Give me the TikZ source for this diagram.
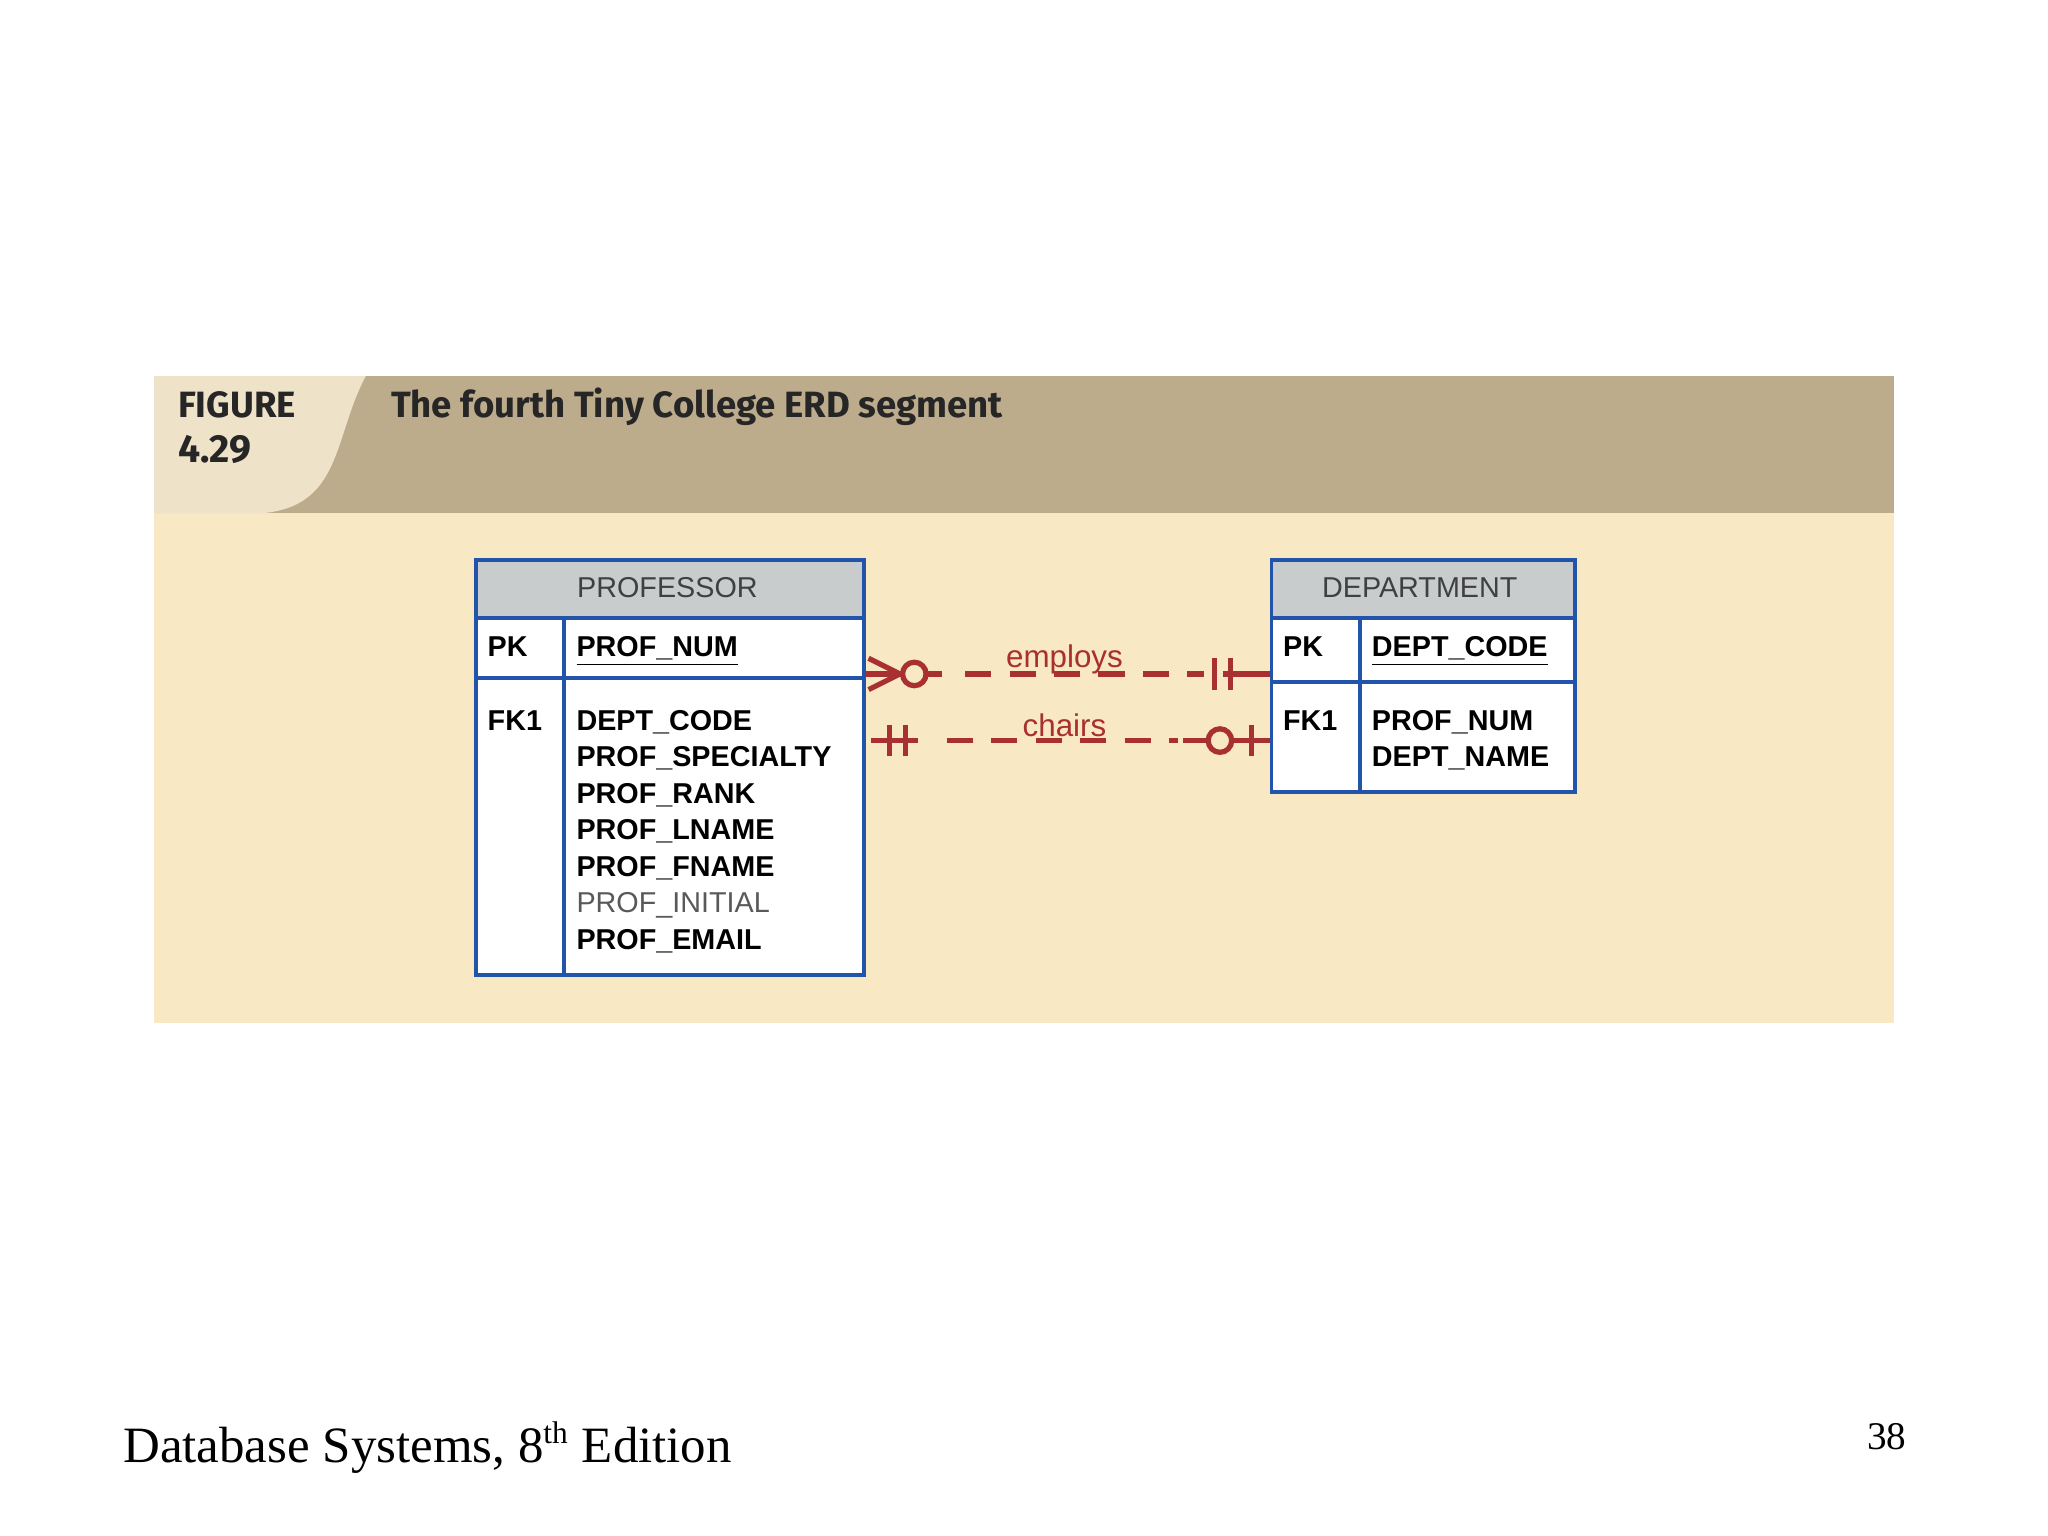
\documentclass[tikz,border=0pt]{standalone}
\usepackage{fontspec}
\usetikzlibrary{calc}
\setmainfont{Liberation Sans}
\newfontfamily\serifft{Liberation Serif}
\newfontfamily\titlefont{Fira Sans}
\definecolor{tan}{HTML}{BCAC8C}
\definecolor{cream}{HTML}{F8E8C4}
\definecolor{tab}{HTML}{EEE2C8}
\definecolor{hdr}{HTML}{C8CCCC}
\definecolor{blu}{HTML}{2255AA}
\definecolor{rel}{HTML}{A83030}
\begin{document}
\begin{tikzpicture}[x=0.5pt,y=-0.5pt,
  tbl/.style={draw=blu,line width=1.5pt},
  attr/.style={anchor=base west,inner sep=0pt,font=\fontsize{11}{12}\selectfont\bfseries},
  hd/.style={anchor=center,inner sep=0pt,font=\fontsize{11}{12}\selectfont,text=black!75},
  rl/.style={draw=rel,line width=2pt},
  dsh/.style={rl,dash pattern=on 10pt off 7pt},
  lab/.style={text=rel,font=\fontsize{12}{12}\selectfont,inner sep=0pt}]
\useasboundingbox (0,0) rectangle (1568,1176);
\fill[white] (0,0) rectangle (1568,1176);
\fill[cream] (118,393) rectangle (1450,783);
\fill[tan] (118,288) rectangle (1450,393);
\fill[tab] (118,288) -- (280,288) .. controls (255,335) and (262,388) .. (200,393) -- (118,393) -- cycle;
\node[anchor=base west,inner sep=0pt,font=\titlefont\fontsize{14}{16}\selectfont\bfseries,text=black!85] (fig) at (136,320) {FIGURE};
\node[anchor=base west,inner sep=0pt,font=\titlefont\fontsize{15}{16}\selectfont\bfseries,text=black!85] (num) at (136,354) {4.29};
\node[anchor=base west,inner sep=0pt,font=\titlefont\fontsize{14}{16}\selectfont\bfseries,text=black!85] (ttl) at (299,320) {The fourth Tiny College ERD segment};
% PROFESSOR
\fill[white] (363,427) rectangle (660,745);
\fill[hdr] (363,427) rectangle (660,473);
\node[tbl,minimum width=148.5pt,minimum height=159pt,inner sep=0pt,anchor=north west] (prof) at (363,427) {};
\draw[tbl] (363,473) -- (660,473) (363,519) -- (660,519) (432,473) -- (432,745);
\node[hd] (ph) at (511,450) {PROFESSOR};
\node[attr] at (373,503) {PK};
\node[attr] at (441,503) {\underline{PROF\_NUM}};
\node[attr] at (373,559) {FK1};
\foreach \t [count=\i from 0] in {DEPT\_CODE,PROF\_SPECIALTY,PROF\_RANK,PROF\_LNAME,PROF\_FNAME}
  \node[attr] at (441,559+28*\i) {\t};
\node[attr,font=\fontsize{11}{12}\selectfont,text=black!65] at (441,699) {PROF\_INITIAL};
\node[attr] at (441,727) {PROF\_EMAIL};
% DEPARTMENT
\fill[white] (972,427) rectangle (1204,605);
\fill[hdr] (972,427) rectangle (1204,473);
\node[tbl,minimum width=116pt,minimum height=89pt,inner sep=0pt,anchor=north west] (dept) at (972,427) {};
\draw[tbl] (972,473) -- (1204,473) (972,522) -- (1204,522) (1041,473) -- (1041,605);
\node[hd] (dh) at (1087,450) {DEPARTMENT};
\node[attr] at (982,503) {PK};
\node[attr] at (1050,503) {\underline{DEPT\_CODE}};
\node[attr] at (982,559) {FK1};
\node[attr] at (1050,559) {PROF\_NUM};
\node[attr] at (1050,587) {DEPT\_NAME};
% employs
\coordinate (e1) at (prof.east |- 0,516);
\coordinate (e2) at (dept.west |- 0,516);
\draw[rl] ($(e1)+(2,-12)$) -- ++(24,12) -- ++(-24,12);
\draw[rl] (e1) -- ($(e1)+(28,0)$);
\draw[rl,fill=cream] ($(e1)+(37,0)$) circle (9);
\draw[rl] ($(e1)+(46,0)$) -- ($(e1)+(58,0)$);
\draw[dsh] ($(e1)+(76,0)$) -- ($(e2)+(-50,0)$);
\draw[rl] ($(e2)+(-36,0)$) -- (e2);
\draw[rl] ($(e2)+(-42,-12)$) -- ++(0,24);
\draw[rl] ($(e2)+(-30,-12)$) -- ++(0,24);
\node[lab] (el) at (815,505) {employs};
% chairs
\coordinate (c1) at (prof.east |- 0,567);
\coordinate (c2) at (dept.west |- 0,567);
\draw[rl] ($(c1)+(4,0)$) -- ($(c1)+(40,0)$);
\draw[rl] ($(c1)+(18,-12)$) -- ++(0,24);
\draw[rl] ($(c1)+(30,-12)$) -- ++(0,24);
\draw[dsh] ($(c1)+(62,0)$) -- ($(c2)+(-70,0)$);
\draw[rl] ($(c2)+(-66,0)$) -- ($(c2)+(-48,0)$);
\draw[rl,fill=cream] ($(c2)+(-38,0)$) circle (9);
\draw[rl] ($(c2)+(-29,0)$) -- (c2);
\draw[rl] ($(c2)+(-14,-12)$) -- ++(0,24);
\node[lab] (cl) at (815,555) {chairs};
% footer
\node[anchor=base west,inner sep=0pt,font=\serifft\fontsize{19.5}{24}\selectfont] (ft) at (94,1120) {Database Systems, 8\textsuperscript{\fontsize{12}{12}\selectfont th} Edition};
\node[anchor=base east,inner sep=0pt,font=\serifft\fontsize{15}{18}\selectfont] (pg) at (1460,1110) {38};
\end{tikzpicture}
\end{document}
